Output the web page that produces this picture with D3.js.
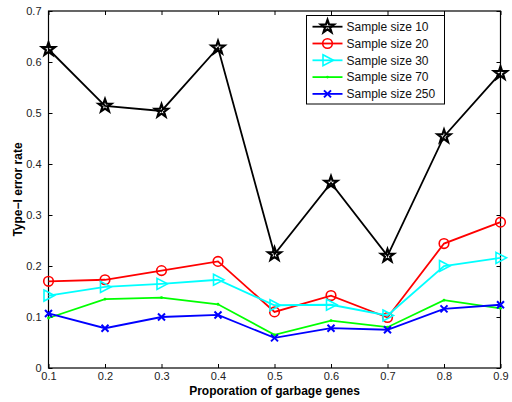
<!DOCTYPE html>
<html><head><meta charset="utf-8">
<script src="https://cdn.jsdelivr.net/npm/d3@7"></script>
<style>body{margin:0;background:#fff}svg{display:block}text{font-family:"Liberation Sans",Arial,sans-serif}</style>
</head><body><svg id="c" width="512" height="402"></svg>
<script>
const proportions = [0.1,0.2,0.3,0.4,0.5,0.6,0.7,0.8,0.9];
const seriesNames = ["Sample size 10","Sample size 20","Sample size 30","Sample size 70","Sample size 250"];
const size10  = [0.625,0.514,0.504,0.628,0.223,0.363,0.220,0.454,0.578];
const size20  = [0.170,0.173,0.191,0.209,0.110,0.142,0.099,0.244,0.286];
const size30  = [0.142,0.159,0.165,0.173,0.123,0.124,0.103,0.200,0.216];
const size70  = [0.098,0.135,0.138,0.125,0.065,0.093,0.080,0.133,0.117];
const size250 = [0.107,0.078,0.100,0.104,0.059,0.078,0.075,0.116,0.124];
const yTicks = [0,0.1,0.2,0.3,0.4,0.5,0.6,0.7];
const xTicks = [0.1,0.2,0.3,0.4,0.5,0.6,0.7,0.8,0.9];
const colors = ["#000000","#ff0000","#00ffff","#00ff00","#0000ff"];
const markers = ["star","circle","triangle","point","cross"];
const allSeries = [size10,size20,size30,size70,size250];

const svg = d3.select("#c");
const L=48.5, R=500.5, T=11, B=368;
const x = d3.scaleLinear().domain([0.1,0.9]).range([L,R]);
const y = d3.scaleLinear().domain([0,0.7]).range([B,T]);

const fmt = d => d===0 ? "0" : d3.format(".1f")(d);
const ax = (g, axis) => { g.call(axis); g.select(".domain").remove(); g.selectAll("line").attr("stroke","#000"); g.selectAll("text").attr("font-size",11).attr("fill","#222"); };
svg.append("g").attr("transform",`translate(0,${B})`).call(g=>ax(g,d3.axisBottom(x).tickValues(xTicks).tickFormat(fmt).tickSize(-4).tickPadding(4)));
svg.append("g").attr("transform",`translate(0,${T})`).call(g=>{ax(g,d3.axisTop(x).tickValues(xTicks).tickFormat("").tickSize(-4));});
svg.append("g").attr("transform",`translate(${L},0)`).call(g=>ax(g,d3.axisLeft(y).tickValues(yTicks).tickFormat(fmt).tickSize(-4).tickPadding(7)));
svg.append("g").attr("transform",`translate(${R},0)`).call(g=>ax(g,d3.axisRight(y).tickValues(yTicks).tickFormat("").tickSize(-4)));
svg.append("rect").attr("x",L).attr("y",T).attr("width",R-L).attr("height",B-T).attr("fill","none").attr("stroke","#000").attr("stroke-width",1.2);

svg.append("text").attr("x",(L+R)/2).attr("y",395).attr("text-anchor","middle").attr("font-size",12).attr("font-weight","bold").text("Proporation of garbage genes");
svg.append("text").attr("transform",`translate(22,${(T+B)/2}) rotate(-90)`).attr("text-anchor","middle").attr("font-size",12).attr("font-weight","bold").text("Type\u2212I error rate");

function starPath(r){ let p=[]; for(let i=0;i<10;i++){const a=-Math.PI/2+i*Math.PI/5; const rr = i%2?r*0.4:r; p.push([rr*Math.cos(a),rr*Math.sin(a)]);} return "M"+p.map(d=>d.join(",")).join("L")+"Z"; }
function drawMarker(g, type, cx, cy, color){
  if(type==="star") g.append("path").attr("d",starPath(6.8)).attr("transform",`translate(${cx},${cy})`).attr("fill","none").attr("stroke",color).attr("stroke-width",2.2).attr("stroke-linejoin","miter");
  else if(type==="circle") g.append("circle").attr("cx",cx).attr("cy",cy).attr("r",4.8).attr("fill","none").attr("stroke",color).attr("stroke-width",1.6);
  else if(type==="triangle") g.append("path").attr("d","M-4.5,-5.5L6,0L-4.5,5.5Z").attr("transform",`translate(${cx},${cy})`).attr("fill","none").attr("stroke",color).attr("stroke-width",1.6);
  else if(type==="point") g.append("circle").attr("cx",cx).attr("cy",cy).attr("r",1.4).attr("fill",color);
  else if(type==="cross") g.append("path").attr("d","M-3.5,-3.5L3.5,3.5M-3.5,3.5L3.5,-3.5").attr("transform",`translate(${cx},${cy})`).attr("stroke",color).attr("stroke-width",2);
}
const line = d3.line().x((d,i)=>x(proportions[i])).y(d=>y(d));
allSeries.forEach((s,k)=>{
  const g = svg.append("g");
  g.append("path").datum(s).attr("d",line).attr("fill","none").attr("stroke",colors[k]).attr("stroke-width",1.8);
  s.forEach((v,i)=>drawMarker(g,markers[k],x(proportions[i]),y(v),colors[k]));
});

const lg = svg.append("g");
lg.append("rect").attr("x",306.5).attr("y",15.5).attr("width",138).attr("height",88.5).attr("fill","#fff").attr("stroke","#000").attr("stroke-width",1);
seriesNames.forEach((n,k)=>{
  const yy = 26.7 + k*16.8;
  lg.append("line").attr("x1",312.5).attr("x2",342.5).attr("y1",yy).attr("y2",yy).attr("stroke",colors[k]).attr("stroke-width",1.8);
  drawMarker(lg,markers[k],327.5,yy,colors[k]);
  lg.append("text").attr("x",346.5).attr("y",yy+4.3).attr("font-size",12).attr("fill","#111").text(n);
});
</script></body></html>
